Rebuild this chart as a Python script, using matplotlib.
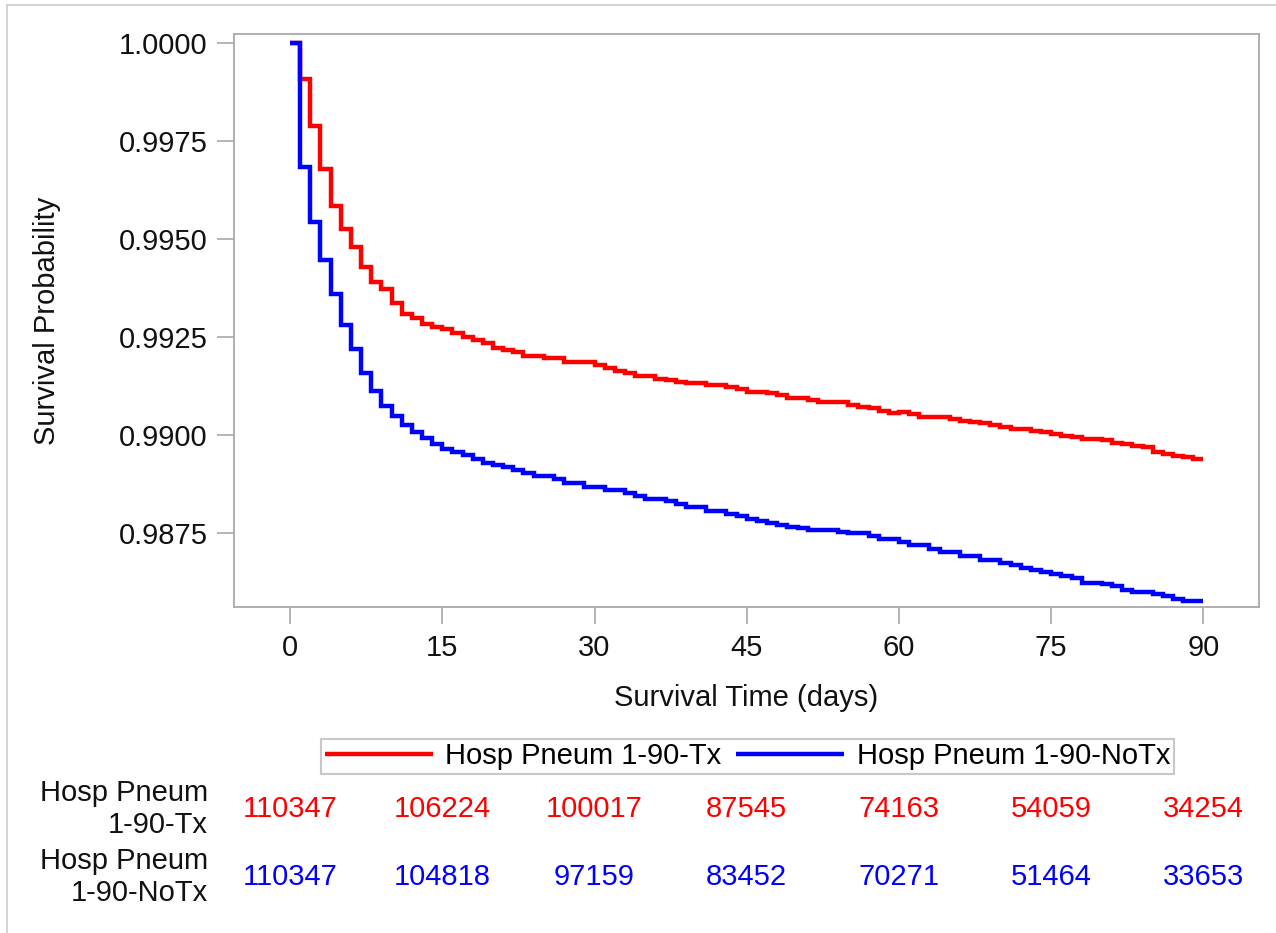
import matplotlib
matplotlib.use("Agg")
import matplotlib.pyplot as plt
from matplotlib.transforms import blended_transform_factory
from matplotlib.lines import Line2D

plt.rcParams['font.family'] = ['Liberation Sans', 'DejaVu Sans']

# ---------------- data ----------------
days = list(range(0, 91))

surv_tx = [
    1.00000, 0.99908, 0.99789, 0.99678, 0.99585, 0.99527, 0.99479, 0.99429, 0.99391, 0.99372,
    0.99336, 0.99310, 0.99298, 0.99283, 0.99276, 0.99270, 0.99259, 0.99251, 0.99242, 0.99234,
    0.99221, 0.99217, 0.99212, 0.99202, 0.99202, 0.99196, 0.99196, 0.99187, 0.99187, 0.99187,
    0.99179, 0.99170, 0.99163, 0.99157, 0.99150, 0.99150, 0.99144, 0.99140, 0.99136, 0.99133,
    0.99133, 0.99128, 0.99128, 0.99122, 0.99117, 0.99110, 0.99110, 0.99106, 0.99102, 0.99094,
    0.99094, 0.99089, 0.99085, 0.99085, 0.99085, 0.99077, 0.99072, 0.99068, 0.99061, 0.99057,
    0.99058, 0.99053, 0.99047, 0.99047, 0.99047, 0.99041, 0.99036, 0.99032, 0.99030, 0.99026,
    0.99019, 0.99015, 0.99015, 0.99010, 0.99007, 0.99003, 0.98998, 0.98994, 0.98990, 0.98990,
    0.98987, 0.98980, 0.98976, 0.98972, 0.98968, 0.98957, 0.98952, 0.98947, 0.98943, 0.98938,
    0.98938,
]

surv_notx = [
    1.00000, 0.99684, 0.99544, 0.99446, 0.99361, 0.99281, 0.99219, 0.99159, 0.99113, 0.99075,
    0.99049, 0.99026, 0.99007, 0.98992, 0.98977, 0.98964, 0.98957, 0.98949, 0.98939, 0.98928,
    0.98923, 0.98919, 0.98911, 0.98904, 0.98894, 0.98894, 0.98887, 0.98878, 0.98878, 0.98868,
    0.98868, 0.98860, 0.98860, 0.98851, 0.98843, 0.98836, 0.98836, 0.98830, 0.98824, 0.98817,
    0.98817, 0.98806, 0.98806, 0.98798, 0.98792, 0.98785, 0.98779, 0.98775, 0.98770, 0.98766,
    0.98762, 0.98758, 0.98758, 0.98758, 0.98753, 0.98749, 0.98749, 0.98741, 0.98734, 0.98734,
    0.98726, 0.98718, 0.98718, 0.98709, 0.98701, 0.98701, 0.98692, 0.98692, 0.98681, 0.98681,
    0.98673, 0.98667, 0.98660, 0.98656, 0.98650, 0.98645, 0.98640, 0.98634, 0.98623, 0.98623,
    0.98619, 0.98613, 0.98603, 0.98599, 0.98599, 0.98594, 0.98588, 0.98582, 0.98575, 0.98575,
    0.98575,
]

group_names = ["Hosp Pneum 1-90-Tx", "Hosp Pneum 1-90-NoTx"]
row_labels = ["Hosp Pneum\n1-90-Tx", "Hosp Pneum\n1-90-NoTx"]
risk_times = [0, 15, 30, 45, 60, 75, 90]
risk_tx = [110347, 106224, 100017, 87545, 74163, 54059, 34254]
risk_notx = [110347, 104818, 97159, 83452, 70271, 51464, 33653]
y_ticks = [1.0000, 0.9975, 0.9950, 0.9925, 0.9900, 0.9875]
x_ticks = [0, 15, 30, 45, 60, 75, 90]

# ---------------- figure ----------------
W, H = 1276, 933
fig = plt.figure(figsize=(W / 100, H / 100), dpi=100)
fig.patch.set_facecolor("white")

left, right, top, bottom = 234, 1259, 34.3, 607.3
ax = fig.add_axes([left / W, 1 - bottom / H, (right - left) / W, (bottom - top) / H])

RED = "#FF0000"
BLUE = "#0000FF"
FS = 21
GRAY = "#a9a9a9"

l1, = ax.step(days, surv_tx, where="post", color=RED, lw=3.2, label=group_names[0],
              solid_joinstyle="miter", solid_capstyle="butt")
l2, = ax.step(days, surv_notx, where="post", color=BLUE, lw=3.2, label=group_names[1],
              solid_joinstyle="miter", solid_capstyle="butt")

ax.set_xlim(-5.52, 95.47)
ax.set_ylim(0.985598, 1.00023)
ax.set_xticks(x_ticks)
ax.set_yticks(y_ticks)
ax.set_yticklabels([f"{v:.4f}" for v in y_ticks])
ax.tick_params(axis="both", labelsize=FS, length=12, width=1.2, color=GRAY,
               direction="out", pad=7, labelcolor="#111111")
for s in ax.spines.values():
    s.set_color(GRAY)
    s.set_linewidth(1.3)

ax.set_xlabel("Survival Time (days)", fontsize=FS, labelpad=14, color="#111111")
ax.set_ylabel("Survival Probability", fontsize=FS, labelpad=14, color="#111111")
ax.yaxis.set_label_coords(47 / W, 0.5, transform=blended_transform_factory(fig.transFigure, ax.transAxes))
ax.xaxis.set_label_coords(0.5, 1 - 698 / H, transform=blended_transform_factory(ax.transAxes, fig.transFigure))
ax.xaxis.label.set_va("center")
ax.yaxis.label.set_va("center")

# legend
leg = fig.legend(handles=[l1, l2], loc="center", bbox_to_anchor=(747.5 / W, 1 - 756 / H),
                 ncol=2, fontsize=FS, frameon=True, fancybox=False, edgecolor="#c8c8c8",
                 framealpha=1, handlelength=3.7, handletextpad=0.43, columnspacing=0.5,
                 borderpad=0.12, borderaxespad=0)
leg.get_frame().set_linewidth(1.5)

# at-risk table
tr = blended_transform_factory(ax.transData, fig.transFigure)
row_y = [1 - 809 / H, 1 - 877 / H]
for t, n in zip(risk_times, risk_tx):
    fig.text(t, row_y[0], str(n), transform=tr, ha="center", va="center", fontsize=FS, color=RED)
for t, n in zip(risk_times, risk_notx):
    fig.text(t, row_y[1], str(n), transform=tr, ha="center", va="center", fontsize=FS, color=BLUE)
for lab, yy in zip(row_labels, row_y):
    fig.text(208 / W, yy, lab, ha="right", va="center", fontsize=FS, color="#111111",
             multialignment="right", linespacing=1.2)

# outer frame (left and top edges)
fig.add_artist(Line2D([6.7 / W, 6.7 / W], [0, 1 - 5 / H], transform=fig.transFigure,
                      color="#d0d0d0", lw=1.3))
fig.add_artist(Line2D([6.7 / W, 1], [1 - 5 / H, 1 - 5 / H], transform=fig.transFigure,
                      color="#d0d0d0", lw=1.3))

fig.savefig("out.png", dpi=100, facecolor="white")
